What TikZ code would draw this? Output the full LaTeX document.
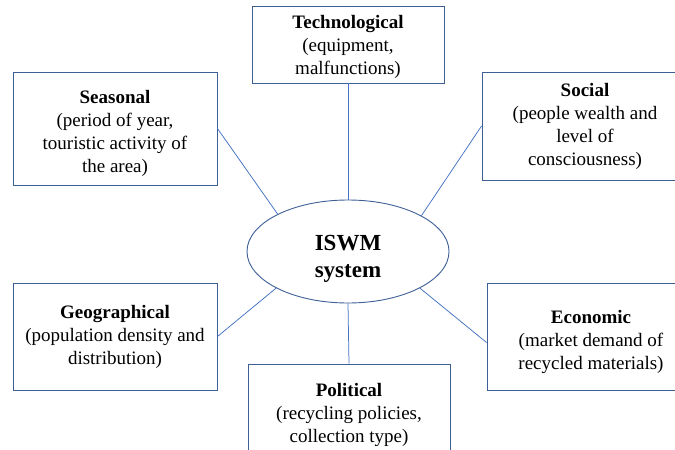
\documentclass[tikz,border=0pt]{standalone}
\usepackage{fontspec}
\setmainfont{Liberation Serif}
\usetikzlibrary{shapes.geometric}
\definecolor{boxline}{HTML}{3D5F96}
\definecolor{conline}{HTML}{4472C4}
\begin{document}
\begin{tikzpicture}[x=1pt,y=-1pt,
  factor/.style={draw=boxline,line width=0.9pt,rectangle,inner sep=0pt},
  ftext/.style={align=center,inner sep=0pt,font=\fontsize{19}{23}\selectfont},
  hub/.style={draw=boxline,line width=0.9pt,ellipse,inner sep=0pt,
    minimum width=202pt,minimum height=103pt},
  htext/.style={align=center,inner sep=0pt,font=\bfseries\fontsize{23}{27}\selectfont},
  conn/.style={draw=conline,line width=0.75pt}]
\clip (0,0) rectangle (675,450);
\fill[white] (0,0) rectangle (675,450);
\node[hub,label={[htext,yshift=-7pt]center:ISWM\\system}] (isw) at (348,251.5) {};
\node[factor,minimum width=192pt,minimum height=77pt,
  label={[ftext,yshift=-2pt]center:\textbf{Technological}\\(equipment,\\malfunctions)}]
  (tech) at (348,44.5) {};
\node[factor,minimum width=206pt,minimum height=108pt,
  label={[ftext]center:\textbf{Social}\\(people wealth and\\level of\\consciousness)}]
  (soc) at (585,126) {};
\node[factor,minimum width=204pt,minimum height=113pt,
  label={[ftext,yshift=-5pt]center:\textbf{Seasonal}\\(period of year,\\touristic activity of\\the area)}]
  (seas) at (115,128.5) {};
\node[factor,minimum width=204pt,minimum height=107pt,
  label={[ftext]center:\textbf{Geographical}\\(population density and\\distribution)}]
  (geo) at (115,336.5) {};
\node[factor,minimum width=208pt,minimum height=107pt,
  label={[ftext,yshift=-5pt]center:\textbf{Economic}\\(market demand of\\recycled materials)}]
  (econ) at (591,336.5) {};
\node[factor,minimum width=202pt,minimum height=94pt,
  label={[ftext,yshift=-4pt]center:\textbf{Political}\\(recycling policies,\\collection type)}]
  (pol) at (349,411) {};
\draw[conn] (tech.south) -- (isw.north);
\draw[conn] (isw.south) -- (pol.north);
\draw[conn] (seas.east) -- (isw.152.8);
\draw[conn] (soc.west) -- (isw.26.9);
\draw[conn] (geo.east) -- (isw.207.2);
\draw[conn] ([yshift=-6pt]econ.west) -- (isw.333);
\end{tikzpicture}
\end{document}
